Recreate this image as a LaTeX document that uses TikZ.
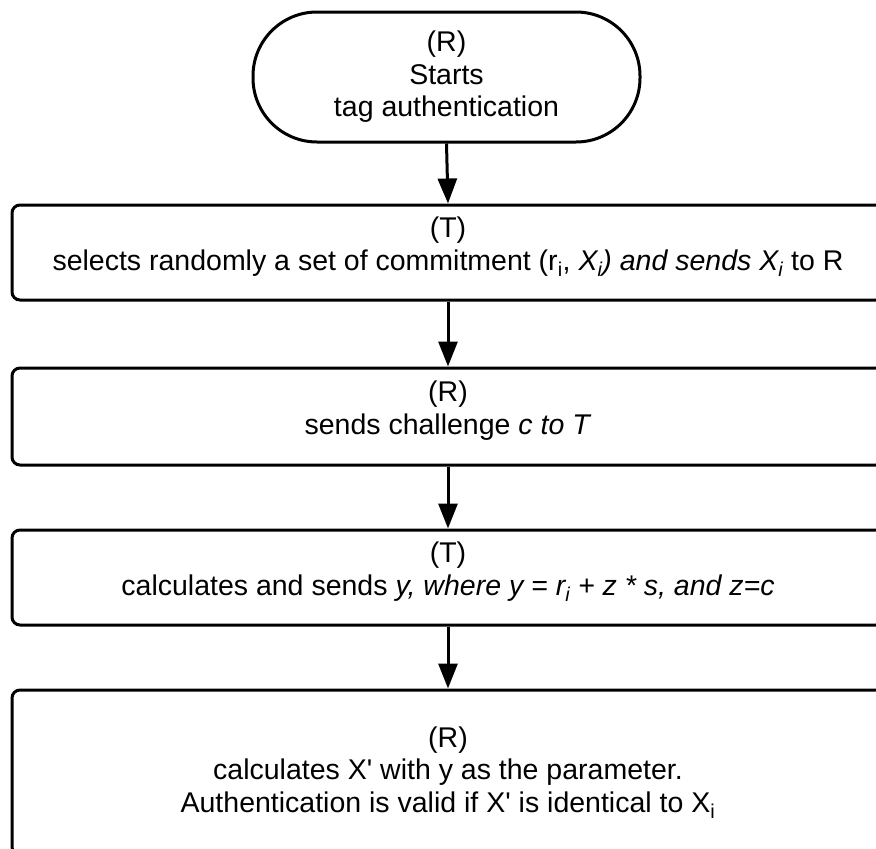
\documentclass[tikz,border=0pt]{standalone}
\usepackage{fontspec}
\setmainfont{Liberation Sans}[Ligatures=TeXOff]
\usetikzlibrary{arrows.meta}
\tikzset{
  flowbox/.style={draw, line width=3pt, rounded corners=8pt, rectangle,
    minimum width=872pt, align=center, inner sep=0pt,
    font=\fontsize{28.5}{32.5}\selectfont},
  terminal/.style={draw, line width=3pt, rounded corners=64pt, rectangle,
    minimum width=387pt, minimum height=130pt, align=center, inner sep=0pt,
    font=\fontsize{28.5}{32.5}\selectfont},
  flowarrow/.style={line width=3pt, -{Triangle[length=25pt,width=19pt]}}
}
\newcommand{\sbu}[1]{\textsubscript{#1}}
\newcommand{\sbi}[1]{\textsubscript{\itshape #1}}
% text block moved up a little, keeping its box size
\newcommand{\lifted}[1]{\raisebox{5pt}[\height][\depth]{\begin{tabular}{@{}c@{}}#1\end{tabular}}}
\begin{document}
\begin{tikzpicture}[x=1pt,y=1pt]
  \useasboundingbox (0,0) rectangle (876,-849);
  \node[terminal] (start) at (446.5,-77) {(R)\\Starts\\tag authentication};
  \node[flowbox, minimum height=95pt] (commit) at (448,-252.5)
    {\lifted{(T)\\selects randomly a set of commitment (r\sbu{i}, \textit{X\sbi{i}) and sends X\sbi{i}} to R}};
  \node[flowbox, minimum height=97pt] (challenge) at (448,-416.5)
    {\lifted{(R)\\sends challenge \textit{c to T}}};
  \node[flowbox, minimum height=95pt] (response) at (448,-577.5)
    {\lifted{(T)\\calculates and sends \textit{y, where y = r\sbi{i} + z * s, and z=c}}};
  \node[flowbox, minimum height=165pt] (verify) at (448,-772.5)
    {(R)\\calculates X' with y as the parameter.\\Authentication is valid if X' is identical to X\sbu{i}};
  \draw[flowarrow] (start.south) -- (commit.north);
  \draw[flowarrow] (commit.south) -- (challenge.north);
  \draw[flowarrow] (challenge.south) -- (response.north);
  \draw[flowarrow] (response.south) -- (verify.north);
\end{tikzpicture}
\end{document}
